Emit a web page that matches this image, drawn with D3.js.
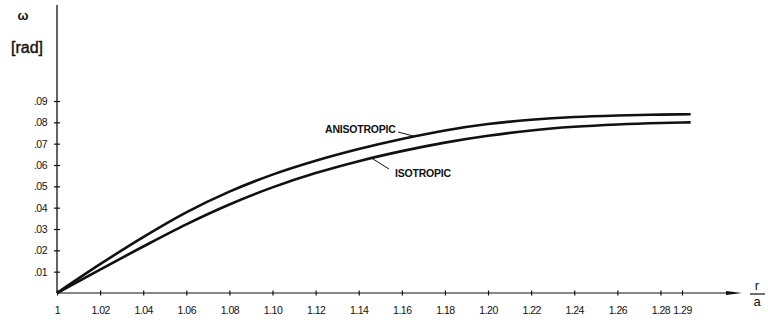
<!DOCTYPE html>
<html>
<head>
<meta charset="utf-8">
<script src="https://cdn.jsdelivr.net/npm/d3@7"></script>
<style>
  body { margin: 0; background: #fff; }
  svg { display: block; font-family: "Liberation Sans", Arial, sans-serif; }
</style>
</head>
<body>
<svg id="chart" width="768" height="322"></svg>
<script>
// r/a positions where curves were read
const ratio = [1, 1.02, 1.04, 1.06, 1.08, 1.10, 1.12, 1.14, 1.16, 1.18, 1.20, 1.22, 1.24, 1.26, 1.28, 1.294]
const anisotropic = [0, 0.0135, 0.0262, 0.0378, 0.0475, 0.0555, 0.0620, 0.0675, 0.0722, 0.0762, 0.0792, 0.0812, 0.0825, 0.0832, 0.0836, 0.0838]
const isotropic = [0, 0.0110, 0.0218, 0.0322, 0.0415, 0.0495, 0.0562, 0.0618, 0.0665, 0.0705, 0.0737, 0.0762, 0.0779, 0.0790, 0.0797, 0.0800]

const xTicks = [1, 1.02, 1.04, 1.06, 1.08, 1.10, 1.12, 1.14, 1.16, 1.18, 1.20, 1.22, 1.24, 1.26, 1.28, 1.29]
const xTickLabels = ['1', '1.02', '1.04', '1.06', '1.08', '1.10', '1.12', '1.14', '1.16', '1.18', '1.20', '1.22', '1.24', '1.26', '1.28', '1.29']
const yTicks = [0.01, 0.02, 0.03, 0.04, 0.05, 0.06, 0.07, 0.08, 0.09]
const yTickLabels = ['.01', '.02', '.03', '.04', '.05', '.06', '.07', '.08', '.09']

const svg = d3.select('#chart')

const x = d3.scaleLinear().domain([1, 1.29]).range([57, 682])
const y = d3.scaleLinear().domain([0, 0.09]).range([293, 101])

const ink = '#111'

// value of a series at r (straight interpolation between read points)
function valueAt(series, r) {
	const i = Math.max(1, d3.bisectRight(ratio, r))
	const t = (r - ratio[i - 1]) / (ratio[i] - ratio[i - 1])
	return series[i - 1] + t * (series[i] - series[i - 1])
}

// y axis line
svg.append('line')
	.attr('x1', x(1)).attr('x2', x(1))
	.attr('y1', 5).attr('y2', y(0))
	.attr('stroke', ink).attr('stroke-width', 1.3)

// x axis line with arrow
svg.append('line')
	.attr('x1', x(1)).attr('x2', 730)
	.attr('y1', y(0)).attr('y2', y(0))
	.attr('stroke', ink).attr('stroke-width', 1.2)
svg.append('path')
	.attr('d', `M726,${y(0) - 2}L742,${y(0)}L726,${y(0) + 2}Z`)
	.attr('fill', ink)

// y ticks via axis
const yAxis = d3.axisLeft(y)
	.tickValues(yTicks)
	.tickSize(0)
	.tickPadding(10)
	.tickFormat((d, i) => yTickLabels[i])
const yG = svg.append('g').attr('transform', `translate(${x(1)},0)`).call(yAxis)
yG.select('.domain').remove()
yG.selectAll('.tick').append('line')
	.attr('x1', -3).attr('x2', 3)
	.attr('stroke', ink).attr('stroke-width', 1.2)
yG.selectAll('text')
	.attr('font-size', 10.5).attr('fill', ink)
	.attr('font-family', '"Liberation Sans", Arial, sans-serif')
	.attr('letter-spacing', -0.5)

// x ticks via axis
const xAxis = d3.axisBottom(x)
	.tickValues(xTicks)
	.tickSize(0)
	.tickPadding(14)
	.tickFormat((d, i) => xTickLabels[i])
const xG = svg.append('g').attr('transform', `translate(0,${y(0)})`).call(xAxis)
xG.select('.domain').remove()
xG.selectAll('.tick').append('line')
	.attr('y1', -2.5).attr('y2', 2.5)
	.attr('stroke', ink).attr('stroke-width', 1.2)
xG.selectAll('text')
	.attr('font-size', 10.5).attr('fill', ink)
	.attr('font-family', '"Liberation Sans", Arial, sans-serif')
	.attr('letter-spacing', -0.5)

// curves
const line = d3.line()
	.x((d, i) => x(ratio[i]))
	.y(d => y(d))
	.curve(d3.curveMonotoneX)

svg.append('path')
	.datum(anisotropic)
	.attr('d', line)
	.attr('fill', 'none').attr('stroke', ink).attr('stroke-width', 2.6)
svg.append('path')
	.datum(isotropic)
	.attr('d', line)
	.attr('fill', 'none').attr('stroke', ink).attr('stroke-width', 2.6)

// curve labels with leaders
const aR = 1.166
const iR = 1.146
svg.append('text')
	.attr('x', 325).attr('y', 133)
	.attr('font-size', 10.5).attr('font-weight', 'bold')
	.attr('fill', ink).attr('letter-spacing', -0.2)
	.text('ANISOTROPIC')
svg.append('line')
	.attr('x1', 398).attr('y1', 132)
	.attr('x2', x(aR)).attr('y2', y(valueAt(anisotropic, aR)))
	.attr('stroke', ink).attr('stroke-width', 1)
svg.append('text')
	.attr('x', 395).attr('y', 177)
	.attr('font-size', 10.5).attr('font-weight', 'bold')
	.attr('fill', ink).attr('letter-spacing', -0.2)
	.text('ISOTROPIC')
svg.append('line')
	.attr('x1', 389).attr('y1', 169)
	.attr('x2', x(iR)).attr('y2', y(valueAt(isotropic, iR)))
	.attr('stroke', ink).attr('stroke-width', 1)

// axis titles
svg.append('text')
	.attr('x', 23).attr('y', 20)
	.attr('text-anchor', 'middle')
	.attr('font-size', 13).attr('font-weight', 'bold').attr('fill', ink)
	.text('ω')
svg.append('text')
	.attr('x', 27).attr('y', 53)
	.attr('text-anchor', 'middle')
	.attr('font-size', 16).attr('fill', ink)
	.attr('stroke', ink).attr('stroke-width', 0.4)
	.text('[rad]')

svg.append('text')
	.attr('x', 757).attr('y', 290)
	.attr('text-anchor', 'middle')
	.attr('font-size', 13).attr('fill', ink)
	.text('r')
svg.append('line')
	.attr('x1', 750).attr('x2', 765)
	.attr('y1', 294).attr('y2', 294)
	.attr('stroke', ink).attr('stroke-width', 1.2)
svg.append('text')
	.attr('x', 757).attr('y', 306)
	.attr('text-anchor', 'middle')
	.attr('font-size', 13).attr('fill', ink)
	.text('a')
</script>
</body>
</html>
